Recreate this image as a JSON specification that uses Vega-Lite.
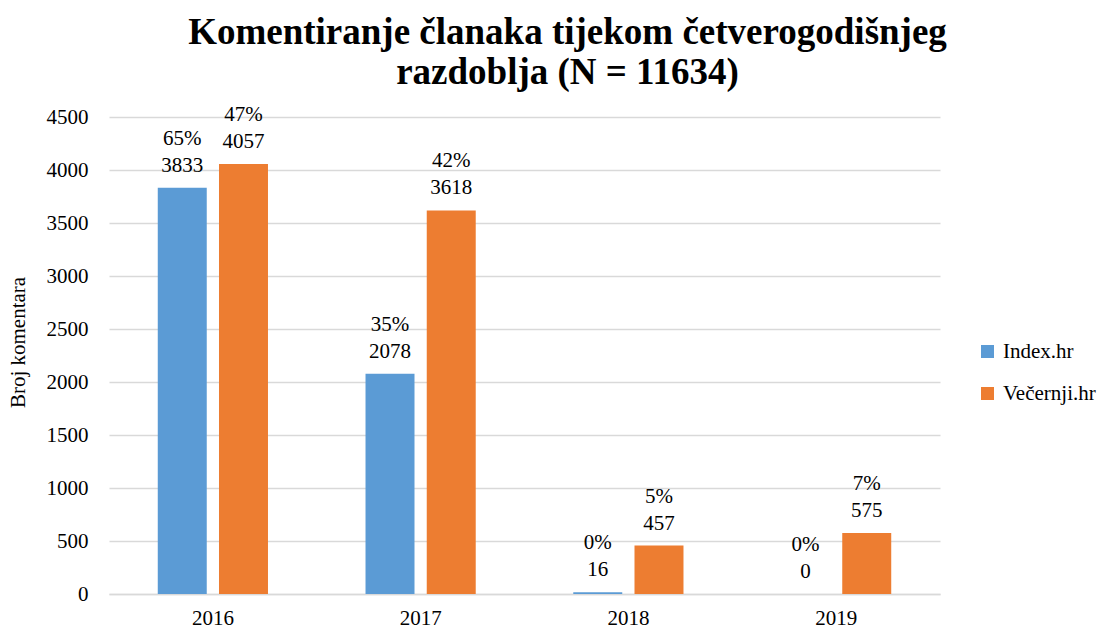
{
  "$schema": "https://vega.github.io/schema/vega-lite/v6.json",
  "autosize": {"type": "none"},
  "width": 831,
  "height": 477,
  "padding": {"left": 109, "top": 117, "right": 167, "bottom": 36},
  "background": "white",
  "config": {
    "font": "Liberation Serif, Times New Roman, serif",
    "view": {"stroke": null}
  },
  "title": {
    "text": ["Komentiranje članaka tijekom četverogodišnjeg", "razdoblja (N = 11634)"],
    "font": "Liberation Serif, Times New Roman, serif",
    "fontSize": 37,
    "fontWeight": "bold",
    "color": "black",
    "anchor": "middle",
    "dx": 43,
    "offset": 12,
    "lineHeight": 40
  },
  "data": {
    "values": [
      {"year": "2016", "site": "Index.hr", "value": 3833, "pct": "65%"},
      {"year": "2016", "site": "Večernji.hr", "value": 4057, "pct": "47%"},
      {"year": "2017", "site": "Index.hr", "value": 2078, "pct": "35%"},
      {"year": "2017", "site": "Večernji.hr", "value": 3618, "pct": "42%"},
      {"year": "2018", "site": "Index.hr", "value": 16, "pct": "0%"},
      {"year": "2018", "site": "Večernji.hr", "value": 457, "pct": "5%"},
      {"year": "2019", "site": "Index.hr", "value": 0, "pct": "0%"},
      {"year": "2019", "site": "Večernji.hr", "value": 575, "pct": "7%"}
    ]
  },
  "encoding": {
    "x": {
      "field": "year", "type": "nominal",
      "scale": {"paddingInner": 0.44, "paddingOuter": 0.22},
      "axis": {
        "title": null, "labelAngle": 0, "ticks": false,
        "labelFont": "Liberation Serif, Times New Roman, serif",
        "labelFontSize": 21, "labelColor": "black", "labelPadding": 13,
        "domainColor": "#d9d9d9", "domainWidth": 1.5
      }
    },
    "xOffset": {
      "field": "site", "type": "nominal",
      "scale": {"paddingInner": 0.2, "paddingOuter": 0.05}
    },
    "y": {
      "field": "value", "type": "quantitative",
      "scale": {"domain": [0, 4500], "nice": false},
      "axis": {
        "title": "Broj komentara", "titleFontSize": 21, "titleFontWeight": "normal",
        "titleFont": "Liberation Serif, Times New Roman, serif",
        "titleColor": "black", "titleX": -81, "titleY": 225,
        "values": [0, 500, 1000, 1500, 2000, 2500, 3000, 3500, 4000, 4500],
        "format": "d",
        "labelFont": "Liberation Serif, Times New Roman, serif",
        "labelFontSize": 21, "labelColor": "black", "labelPadding": 21,
        "ticks": false, "domain": false,
        "grid": true, "gridColor": "#d9d9d9", "gridWidth": 1.5
      }
    }
  },
  "layer": [
    {
      "mark": {"type": "bar"},
      "encoding": {
        "color": {
          "field": "site", "type": "nominal",
          "scale": {"domain": ["Index.hr", "Večernji.hr"], "range": ["#5B9BD5", "#ED7D31"]},
          "legend": {
            "title": null, "orient": "none", "legendX": 868, "legendY": 224,
            "symbolType": "square", "symbolSize": 169, "symbolStrokeWidth": 0,
            "labelFont": "Liberation Serif, Times New Roman, serif",
            "labelFontSize": 21, "labelColor": "black", "labelOffset": 5,
            "rowPadding": 20
          }
        }
      }
    },
    {
      "mark": {"type": "text", "baseline": "alphabetic", "dy": -16, "fontSize": 21, "color": "black", "font": "Liberation Serif, Times New Roman, serif"},
      "encoding": {"text": {"field": "value", "type": "quantitative"}}
    },
    {
      "mark": {"type": "text", "baseline": "alphabetic", "dy": -43, "fontSize": 21, "color": "black", "font": "Liberation Serif, Times New Roman, serif"},
      "encoding": {"text": {"field": "pct", "type": "nominal"}}
    }
  ]
}
